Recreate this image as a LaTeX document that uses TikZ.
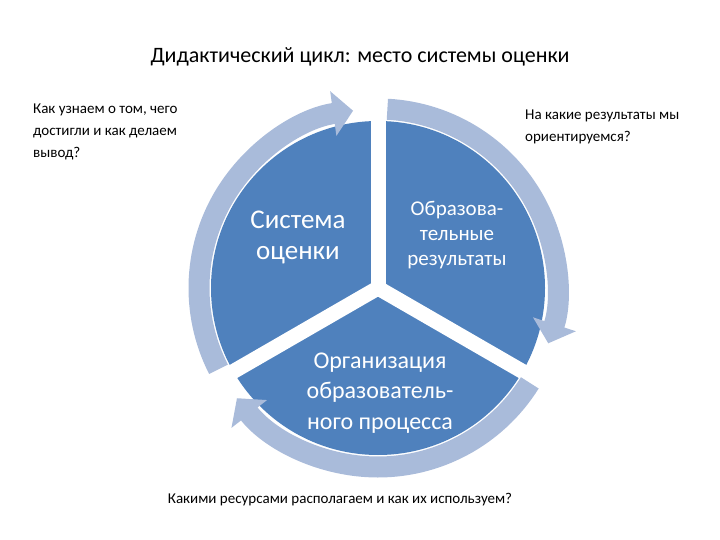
\documentclass[tikz,border=0pt]{standalone}
\usepackage{fontspec}
\setmainfont{Carlito}
\usetikzlibrary{arrows.meta}
\definecolor{pie}{HTML}{4F81BD}
\definecolor{ringc}{HTML}{A9BBDA}
\begin{document}
\begin{tikzpicture}[x=1pt,y=1pt,
  ring/.style={ringc,line width=21pt,-{Triangle[width=44pt,length=20pt]}},
  sec/.style={text=white,align=center,inner sep=0pt},
  note/.style={align=left,inner sep=0pt,font=\fontsize{15}{22}\selectfont}]
\useasboundingbox (0,0) rectangle (720,-540);
\coordinate (c) at (378,-288);
% pie
\fill[pie] (c) circle[radius=167];
\draw[white,line width=15pt] (c) -- ++(90:175);
\draw[white,line width=15pt] (c) -- ++(-30:175);
\draw[white,line width=15pt] (c) -- ++(210:175);
% ring arrows
\draw[ring] ([shift={(207:179)}]c) arc[start angle=207,end angle=98,radius=179];
\draw[ring] ([shift={(87:179)}]c) arc[start angle=87,end angle=-18,radius=179];
\draw[ring] ([shift={(-32:179)}]c) arc[start angle=-32,end angle=-142,radius=179];
% texts
\node[inner sep=0pt,font=\fontsize{22}{26}\selectfont] (title) at (360,-57) {Дидактический цикл: место системы оценки};
\node[note,anchor=north west] (q1) at (33,-104) {Как узнаем о том, чего\\достигли и как делаем\\вывод?};
\node[note,anchor=north west] (q2) at (525,-110) {На какие результаты мы\\ориентируемся?};
\node[inner sep=0pt,font=\fontsize{15}{18}\selectfont] (q3) at (340,-500) {Какими ресурсами располагаем и как их используем?};
\node[sec,font=\fontsize{27}{31}\selectfont] (s1) at (298,-237) {Система\\оценки};
\node[sec,font=\fontsize{21}{25}\selectfont] (s2) at (457,-235) {Образова-\\тельные\\результаты};
\node[sec,font=\fontsize{24}{30.5}\selectfont] (s3) at (380,-393) {Организация\\образователь-\\ного процесса};
\end{tikzpicture}
\end{document}
